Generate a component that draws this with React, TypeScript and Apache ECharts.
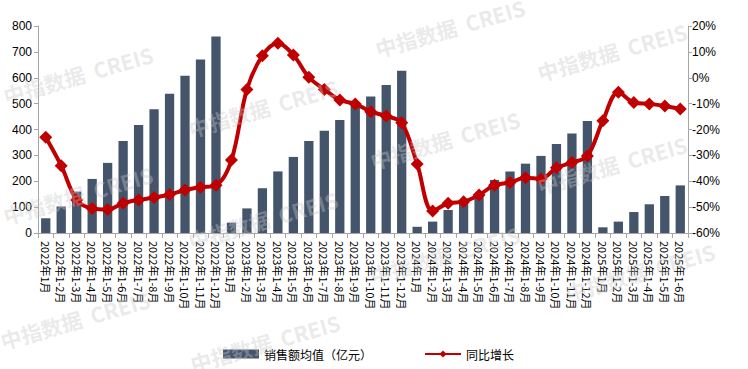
import React, { useEffect, useRef } from "react";
import * as echarts from "echarts";

const categories: string[] = [
  "2022年1月", "2022年1-2月", "2022年1-3月", "2022年1-4月", "2022年1-5月", "2022年1-6月",
  "2022年1-7月", "2022年1-8月", "2022年1-9月", "2022年1-10月", "2022年1-11月", "2022年1-12月",
  "2023年1月", "2023年1-2月", "2023年1-3月", "2023年1-4月", "2023年1-5月", "2023年1-6月",
  "2023年1-7月", "2023年1-8月", "2023年1-9月", "2023年1-10月", "2023年1-11月", "2023年1-12月",
  "2024年1月", "2024年1-2月", "2024年1-3月", "2024年1-4月", "2024年1-5月", "2024年1-6月",
  "2024年1-7月", "2024年1-8月", "2024年1-9月", "2024年1-10月", "2024年1-11月", "2024年1-12月",
  "2025年1月", "2025年1-2月", "2025年1-3月", "2025年1-4月", "2025年1-5月", "2025年1-6月",
];

const salesAvg: number[] = [
  57, 102, 160, 209, 271, 356, 417, 478, 538, 608, 671, 759,
  40, 95, 173, 238, 294, 356, 395, 437, 491, 528, 572, 627,
  24, 44, 89, 120, 140, 205, 238, 268, 298, 344, 385, 433,
  22, 44, 81, 111, 143, 184,
];

const yoyGrowth: number[] = [
  -23.0, -34.0, -47.2, -50.5, -50.9, -48.5, -47.2, -46.3, -45.1, -43.4, -42.3, -41.5,
  -31.8, -4.5, 8.5, 13.3, 8.8, 0.2, -4.5, -8.6, -10.1, -13.1, -14.8, -17.4,
  -33.3, -51.5, -48.5, -47.9, -45.3, -41.5, -40.5, -38.6, -39.1, -34.8, -32.8, -30.2,
  -16.6, -5.6, -9.6, -10.1, -10.9, -12.1,
];

const seriesNames = ["销售额均值（亿元）", "同比增长"];
const watermarkText = "中指数据  CREIS";
const watermarkCenters: [number, number][] = [
  [78, 75], [78, 195], [75, 320],
  [263, 108], [263, 220], [265, 343],
  [450, 28], [445, 140], [445, 255],
  [612, 52], [612, 165], [640, 272],
];

export default function App() {
  const ref = useRef<HTMLDivElement>(null);
  useEffect(() => {
    if (!ref.current) return;
    const chart = echarts.init(ref.current, null, { renderer: "svg" });
    const axisLine = { show: true, lineStyle: { color: "#a6a6a6", width: 1 } };
    const labelFont = { fontFamily: "Liberation Sans, Noto Sans CJK SC", color: "#000", fontSize: 12 };
    chart.setOption({
      animation: false,
      grid: { left: 38, right: 60, top: 26, bottom: 136 },
      legend: {
        left: 218,
        top: 343,
        itemGap: 52,
        itemWidth: 36,
        itemHeight: 9,
        textStyle: { fontFamily: "Noto Sans CJK SC", fontSize: 12, color: "#000" },
        data: [
          { name: seriesNames[0], icon: "rect" },
          { name: seriesNames[1] },
        ],
      },
      xAxis: {
        type: "category",
        data: categories,
        boundaryGap: true,
        axisLine,
        axisTick: { show: true, length: 5, lineStyle: { color: "#a6a6a6" } },
        axisLabel: {
          ...labelFont,
          fontFamily: "Noto Sans CJK SC",
          fontSize: 11,
          interval: 0,
          rotate: -90,
          margin: 8,
        },
      },
      yAxis: [
        {
          type: "value",
          min: 0,
          max: 800,
          interval: 100,
          axisLine,
          axisTick: { show: true, length: 4, lineStyle: { color: "#a6a6a6" } },
          splitLine: { show: false },
          axisLabel: { ...labelFont, margin: 6 },
        },
        {
          type: "value",
          min: -60,
          max: 20,
          interval: 10,
          position: "right",
          axisLine,
          axisTick: { show: true, length: 4, lineStyle: { color: "#a6a6a6" } },
          splitLine: { show: false },
          axisLabel: { ...labelFont, margin: 4, formatter: "{value}%" },
        },
      ],
      series: [
        {
          name: seriesNames[0],
          type: "bar",
          data: salesAvg,
          barWidth: "60%",
          itemStyle: { color: "#44546A" },
          z: 2,
        },
        {
          name: seriesNames[1],
          type: "line",
          yAxisIndex: 1,
          data: yoyGrowth,
          smooth: 0.35,
          symbol: "diamond",
          symbolSize: 13,
          lineStyle: { color: "#C00000", width: 4 },
          itemStyle: { color: "#C00000" },
          z: 3,
        },
      ],
      graphic: watermarkCenters.map(([x, y]) => ({
        type: "text",
        x,
        y,
        rotation: (16 * Math.PI) / 180,
        z: 100,
        silent: true,
        style: {
          text: watermarkText,
          fill: "rgba(200,200,200,0.38)",
          font: "bold 21px 'Noto Sans CJK SC'",
          align: "center",
          verticalAlign: "middle",
        },
      })),
    });
    return () => chart.dispose();
  }, []);
  return (
    <div
      ref={ref}
      style={{ position: "absolute", left: 0, top: 0, width: 748, height: 369 }}
    />
  );
}
